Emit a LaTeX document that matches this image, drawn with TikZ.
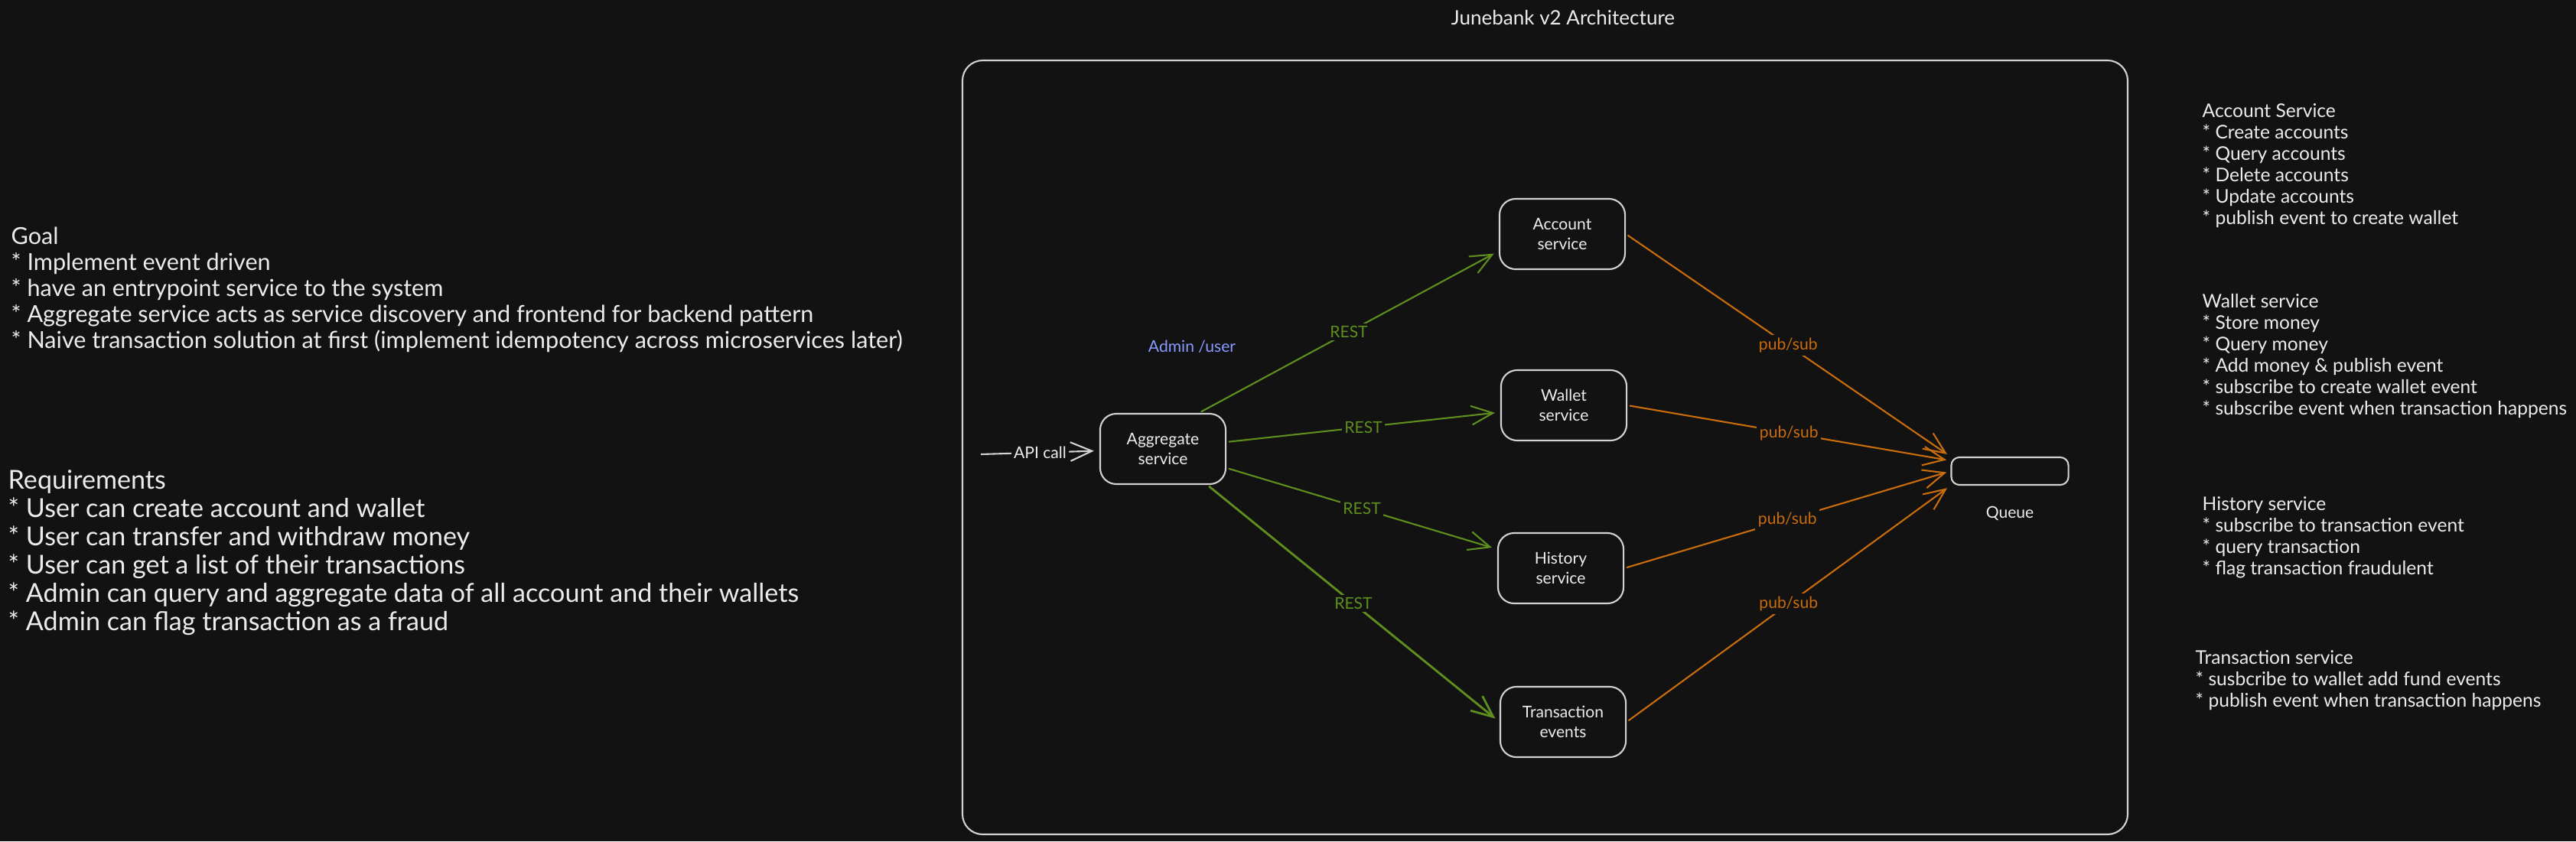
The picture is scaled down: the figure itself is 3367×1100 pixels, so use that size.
\documentclass[tikz,border=0pt]{standalone}
\usepackage{fontspec}
\setmainfont{Lato}
\usepackage{tikz}
\usetikzlibrary{arrows.meta, positioning}
\definecolor{bg}{HTML}{121212}
\definecolor{fg}{HTML}{ECECEC}
\definecolor{edge}{HTML}{D2D2D2}
\definecolor{restgreen}{HTML}{5E8F1E}
\definecolor{puborange}{HTML}{C96C0C}
\definecolor{adminblue}{HTML}{8A9BFF}

\begin{document}
\begin{tikzpicture}[x=0.01cm, y=-0.01cm,
    box/.style={draw=edge, line width=0.6pt, rounded corners=6pt, minimum width=1.64cm, minimum height=0.92cm, align=center, text=fg, font=\fontsize{6}{7.4}\selectfont},
    note/.style={anchor=north west, align=left, inner sep=0pt, text=fg},
    lbl/.style={midway, fill=bg, inner sep=1pt, font=\fontsize{6}{7}\selectfont},
    rest/.style={draw=restgreen, line width=0.6pt, line cap=round, -{Straight Barb[length=8pt, width=7pt]}, shorten >=2pt, shorten <=1pt},
    pubsub/.style={draw=puborange, line width=0.6pt, line cap=round, -{Straight Barb[length=8pt, width=7pt]}, shorten >=1.5pt, shorten <=1pt}]
        \fill[bg] (0,0) rectangle (3367,1100);
        \useasboundingbox (0,0) rectangle (3367,1100);

        \node[text=fg, font=\fontsize{7.4}{9}\selectfont] (title) at (2043,23) {Junebank v2 Architecture};
        \draw[edge, line width=0.6pt, rounded corners=7.5pt] (1258,79) rectangle (2781,1091);

        \node[note, font=\fontsize{8.7}{9.67}\selectfont] (goal) at (14,296) {Goal\\
            * Implement event driven\\
            * have an entrypoint service to the system\\
            * Aggregate service acts as service discovery and frontend for backend pattern\\
            * Naive transaction solution at first (implement idempotency across microservices later)};
        \node[note, font=\fontsize{9.7}{10.5}\selectfont] (req) at (10,614) {Requirements\\
            * User can create account and wallet\\
            * User can transfer and withdraw money\\
            * User can get a list of their transactions\\
            * Admin can query and aggregate data of all account and their wallets\\
            * Admin can flag transaction as a fraud};

        \node[note, font=\fontsize{7}{7.97}\selectfont] (accnote) at (2878,135) {Account Service\\
            * Create accounts\\
            * Query accounts\\
            * Delete accounts\\
            * Update accounts\\
            * publish event to create wallet};
        \node[note, font=\fontsize{7}{7.97}\selectfont] (walnote) at (2878,384) {Wallet service\\
            * Store money\\
            * Query money\\
            * Add money \& publish event\\
            * subscribe to create wallet event\\
            * subscribe event when transaction happens};
        \node[note, font=\fontsize{7}{7.97}\selectfont] (hisnote) at (2878,649) {History service\\
            * subscribe to transaction event\\
            * query transaction\\
            * flag transaction fraudulent};
        \node[note, font=\fontsize{7}{7.97}\selectfont] (trxnote) at (2869,850) {Transaction service\\
            * susbcribe to wallet add fund events\\
            * publish event when transaction happens};

        \node[box] (1) at (1520,587) {Aggregate\\service};
        \node[box] (2) at (2042,306) {Account\\service};
        \node[box] (3) at (2044,530) {Wallet\\service};
        \node[box] (4) at (2040,743) {History\\service};
        \node[box] (5) at (2043,944) {Transaction\\events};
        \node[box, minimum width=1.53cm, minimum height=0.36cm, rounded corners=3pt] (6) at (2627,616) {};
        \node[text=fg, font=\fontsize{6}{7}\selectfont] (7) [below=0.15cm of 6] {Queue};

        \coordinate (0) at (1282,594);
        \draw[edge, line width=0.6pt, -{Straight Barb[length=8pt, width=7pt]}, shorten >=2pt] (0) -- node[lbl, text=fg] {API call} (1);
        \node[text=adminblue, font=\fontsize{6}{7}\selectfont] (admin) at (1558,453) {Admin /user};

        \draw[rest] (1.45) -- node[lbl, text=restgreen] {REST} (2.195);
        \draw[rest] (1) -- node[lbl, text=restgreen] {REST} (3);
        \draw[rest] (1) -- node[lbl, text=restgreen] {REST} (4);
        \draw[rest, line width=0.8pt] (1) -- node[lbl, text=restgreen] {REST} (5.west);

        \draw[pubsub] (2.east) -- node[lbl, text=puborange] {pub/sub} (6.north west);
        \draw[pubsub] (3.east) -- node[lbl, text=puborange] {pub/sub} (6.170);
        \draw[pubsub] (4.east) -- node[lbl, text=puborange] {pub/sub} (6.west);
        \draw[pubsub] (5.east) -- node[lbl, text=puborange] {pub/sub} (6.south west);
\end{tikzpicture}
\end{document}
